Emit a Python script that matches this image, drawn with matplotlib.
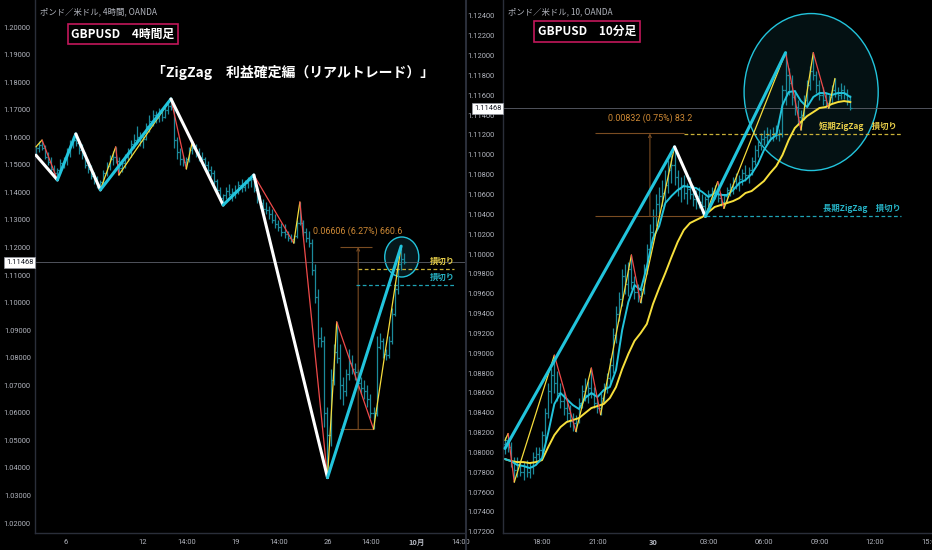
import numpy as np
import matplotlib
matplotlib.use("Agg")
import matplotlib.pyplot as plt
from matplotlib.patches import Ellipse
from matplotlib.lines import Line2D

JP = ['Noto Sans CJK JP', 'DejaVu Sans']
NUM = ['Roboto', 'DejaVu Sans']
plt.rcParams['font.family'] = JP

BG = '#000000'
GRID = '#2a2e39'
TXT = '#b2b5be'
CYAN = '#22c4dc'
YEL = '#f6dc3c'
RED = '#ef4a4a'
BAR = '#1b8a9b'
ORANGE = '#cf8a35'
BROWN = '#7a4c22'
PINK = '#c2185b'

# ---------------- 4 hour chart (prices in 1e-4) ----------------
h4_open0 = 11545
h4_high = [11568, 11585, 11590, 11572, 11545, 11530, 11500, 11490, 11520, 11530,
           11560, 11590, 11605, 11612, 11590, 11575, 11545, 11520, 11500, 11475,
           11460, 11445, 11480, 11510, 11535, 11550, 11565, 11530, 11520, 11540,
           11560, 11590, 11610, 11640, 11620, 11605, 11650, 11680, 11700, 11695,
           11705, 11700, 11715, 11725, 11739, 11715, 11600, 11560, 11535, 11530,
           11565, 11586, 11575, 11560, 11545, 11530, 11515, 11495, 11480, 11450,
           11420, 11395, 11420, 11430, 11415, 11425, 11440, 11450, 11445, 11455,
           11460, 11463, 11420, 11390, 11375, 11365, 11350, 11340, 11320, 11300,
           11290, 11285, 11260, 11250, 11245, 11300, 11365, 11300, 11270, 11260,
           11230, 11140, 11050, 10910, 10880, 10620, 10760, 10850, 10930, 10850,
           10730, 10760, 10830, 10810, 10780, 10760, 10730, 10720, 10700, 10670,
           10620, 10880, 10890, 10870, 10830, 10880, 10980, 11070, 11150, 11205,
           11180]
h4_low = [11532, 11548, 11555, 11520, 11498, 11470, 11455, 11445, 11470, 11490,
          11500, 11530, 11560, 11570, 11540, 11520, 11490, 11470, 11450, 11430,
          11415, 11409, 11425, 11460, 11480, 11500, 11505, 11463, 11475, 11490,
          11515, 11530, 11560, 11575, 11570, 11560, 11590, 11620, 11640, 11650,
          11655, 11660, 11670, 11685, 11700, 11560, 11520, 11500, 11495, 11485,
          11510, 11540, 11530, 11515, 11505, 11490, 11470, 11455, 11430, 11400,
          11370, 11354, 11375, 11385, 11370, 11380, 11395, 11400, 11405, 11415,
          11420, 11400, 11360, 11345, 11330, 11320, 11305, 11290, 11270, 11260,
          11240, 11235, 11225, 11220, 11216, 11235, 11280, 11240, 11220, 11200,
          11100, 11000, 10840, 10840, 10550, 10365, 10480, 10700, 10780, 10650,
          10630, 10660, 10720, 10740, 10720, 10690, 10670, 10650, 10620, 10580,
          10541, 10590, 10830, 10800, 10790, 10800, 10850, 10950, 11030, 11120,
          11140]
h4_close = [11560, 11572, 11560, 11530, 11510, 11485, 11470, 11482, 11505, 11522,
            11545, 11575, 11590, 11580, 11555, 11535, 11500, 11485, 11460, 11445,
            11430, 11438, 11470, 11495, 11520, 11530, 11515, 11490, 11505, 11530,
            11545, 11575, 11590, 11600, 11585, 11595, 11640, 11660, 11680, 11670,
            11690, 11675, 11700, 11715, 11710, 11590, 11545, 11520, 11510, 11520,
            11555, 11560, 11545, 11530, 11520, 11500, 11480, 11470, 11440, 11410,
            11380, 11390, 11405, 11395, 11400, 11410, 11425, 11420, 11435, 11445,
            11450, 11410, 11375, 11360, 11340, 11335, 11320, 11300, 11285, 11275,
            11255, 11250, 11235, 11230, 11240, 11290, 11290, 11255, 11235, 11215,
            11120, 11020, 10870, 10860, 10600, 10520, 10720, 10820, 10800, 10700,
            10680, 10740, 10780, 10760, 10750, 10710, 10690, 10680, 10650, 10600,
            10600, 10840, 10860, 10815, 10810, 10860, 10960, 11050, 11140, 11160,
            11147]
# ZigZag pivots (bar index, price 1e-4)
h4_zz_short_bar = [0, 2, 7, 13, 21, 26, 27, 44, 49, 51, 61, 71, 84, 86, 95, 98, 110, 119]
h4_zz_short_px = [11565, 11590, 11445, 11612, 11409, 11565, 11463, 11739, 11485, 11586,
                  11354, 11463, 11216, 11365, 10365, 10930, 10541, 11205]
h4_zz_long_bar = [0, 7, 13, 21, 44, 61, 71, 95, 119]
h4_zz_long_px = [11535, 11445, 11612, 11409, 11739, 11354, 11463, 10365, 11205]
h4_meas_low, h4_meas_high = 1.05410, 1.12016
h4_meas_text = '0.06606 (6.27%) 660.6'
h4_stop_short, h4_stop_long = 1.1122, 1.1064
h4_xtick_bar = [9.8, 34.9, 49.2, 65.1, 79.2, 95.1, 109.1, 124.1, 138.4]
h4_xtick_lab = ['6', '12', '14:00', '19', '14:00', '26', '14:00', '10月', '14:00']
h4_yticks = [1.02, 1.03, 1.04, 1.05, 1.06, 1.07, 1.08, 1.09, 1.10,
             1.11, 1.12, 1.13, 1.14, 1.15, 1.16, 1.17, 1.18, 1.19, 1.20]

# ---------------- 10 minute chart (prices in 1e-4, bar 0 = 18:00) ----------------
m10_first_bar = -12
m10_open0 = 10808
m10_high = [10815, 10819, 10810, 10795, 10795, 10792, 10790, 10792, 10790, 10800,
            10805, 10805, 10822, 10845, 10870, 10885, 10898, 10882, 10870, 10862,
            10855, 10848, 10840, 10838, 10855, 10868, 10875, 10872, 10885, 10866,
            10855, 10860, 10870, 10880, 10895, 10925, 10948, 10962, 10985, 10990,
            10992, 10999, 10978, 10970, 10968, 10990, 11010, 11030, 11045, 11060,
            11068, 11075, 11085, 11095, 11100, 11108, 11085, 11078, 11080, 11072,
            11078, 11070, 11065, 11068, 11060, 11058, 11065, 11068, 11070, 11073,
            11062, 11060, 11068, 11072, 11078, 11082, 11080, 11086, 11090, 11088,
            11098, 11110, 11115, 11122, 11125, 11128, 11126, 11128, 11130, 11126,
            11170, 11203, 11188, 11180, 11165, 11155, 11145, 11160, 11175, 11190,
            11203, 11185, 11175, 11168, 11162, 11160, 11170, 11177, 11168, 11172,
            11170, 11166, 11160]
m10_low = [10798, 10800, 10785, 10770, 10775, 10776, 10772, 10775, 10774, 10778,
           10788, 10790, 10798, 10810, 10835, 10850, 10860, 10852, 10845, 10838,
           10832, 10826, 10822, 10821, 10830, 10845, 10852, 10850, 10855, 10845,
           10840, 10838, 10850, 10860, 10868, 10880, 10910, 10932, 10948, 10960,
           10958, 10965, 10955, 10952, 10951, 10960, 10980, 10998, 11015, 11028,
           11040, 11048, 11052, 11062, 11072, 11070, 11058, 11052, 11055, 11050,
           11055, 11048, 11045, 11046, 11040, 11038, 11048, 11052, 11055, 11052,
           11048, 11046, 11052, 11058, 11060, 11066, 11064, 11070, 11074, 11072,
           11080, 11090, 11098, 11105, 11110, 11112, 11114, 11114, 11116, 11114,
           11118, 11150, 11160, 11150, 11140, 11130, 11125, 11135, 11148, 11165,
           11175, 11162, 11155, 11150, 11148, 11147, 11152, 11158, 11155, 11156,
           11156, 11150, 11145]
m10_close = [10812, 10805, 10790, 10782, 10788, 10780, 10786, 10780, 10785, 10795,
             10798, 10802, 10818, 10840, 10862, 10878, 10870, 10860, 10852, 10845,
             10840, 10832, 10830, 10835, 10850, 10862, 10858, 10865, 10860, 10850,
             10845, 10855, 10866, 10875, 10888, 10918, 10940, 10955, 10978, 10970,
             10985, 10972, 10962, 10958, 10965, 10985, 11005, 11022, 11038, 11050,
             11058, 11062, 11070, 11085, 11090, 11078, 11066, 11070, 11062, 11066,
             11060, 11055, 11058, 11052, 11048, 11055, 11060, 11064, 11062, 11056,
             11052, 11058, 11065, 11068, 11074, 11070, 11076, 11082, 11080, 11085,
             11094, 11105, 11110, 11116, 11118, 11120, 11118, 11122, 11120, 11122,
             11165, 11180, 11172, 11158, 11148, 11138, 11140, 11155, 11170, 11185,
             11180, 11170, 11160, 11155, 11152, 11158, 11165, 11162, 11160, 11165,
             11162, 11155, 11147]
m10_ma_bar = list(range(-12, 101, 2))
m10_ma_fast = [1.07932, 1.07912, 1.07872, 1.07862, 1.07842, 1.07872, 1.07942, 1.08195,
               1.08487, 1.08598, 1.08537, 1.08477, 1.08437, 1.08548, 1.08598, 1.08558,
               1.08628, 1.08659, 1.08830, 1.09233, 1.09516, 1.09687, 1.09637, 1.09869,
               1.10161, 1.10282, 1.10514, 1.10585, 1.10645, 1.10685, 1.10675, 1.10665,
               1.10625, 1.10575, 1.10615, 1.10595, 1.10595, 1.10645, 1.10716, 1.10746,
               1.10807, 1.10907, 1.11048, 1.11149, 1.11200, 1.11502, 1.11633, 1.11643,
               1.11542, 1.11482, 1.11583, 1.11623, 1.11623, 1.11603, 1.11623, 1.11623,
               1.11583]
m10_ma_slow = [1.07932, 1.07912, 1.07902, 1.07902, 1.07892, 1.07902, 1.07922, 1.08053,
               1.08174, 1.08255, 1.08306, 1.08326, 1.08346, 1.08397, 1.08447, 1.08467,
               1.08487, 1.08548, 1.08659, 1.08840, 1.08992, 1.09124, 1.09203, 1.09294,
               1.09496, 1.09657, 1.09808, 1.09969, 1.10121, 1.10242, 1.10312, 1.10343,
               1.10373, 1.10423, 1.10474, 1.10494, 1.10514, 1.10534, 1.10564, 1.10615,
               1.10635, 1.10685, 1.10736, 1.10816, 1.10887, 1.10998, 1.11149, 1.11270,
               1.11331, 1.11391, 1.11431, 1.11472, 1.11482, 1.11512, 1.11532, 1.11542,
               1.11532]
m10_zz_short_bar = [-12, -11, -9, 4, 11, 16, 19, 29, 32, 43, 53, 57, 59, 79, 84, 88, 93, 95]
m10_zz_short_px = [10812, 10819, 10770, 10898, 10821, 10885, 10838, 10999, 10951, 11108,
                   11038, 11073, 11046, 11203, 11125, 11203, 11147, 11177]
m10_zz_long_bar = [-12, 43, 53, 79]
m10_zz_long_px = [10804, 11108, 11038, 11203]
m10_meas_low, m10_meas_high = 1.10383, 1.11215
m10_meas_text = '0.00832 (0.75%) 83.2'
m10_stop_short, m10_stop_long = 1.1121, 1.1038
m10_xtick_bar = [0, 18, 36, 54, 72, 90, 108, 126]
m10_xtick_lab = ['18:00', '21:00', '30', '03:00', '06:00', '09:00', '12:00', '15:00']
m10_yticks = [1.072, 1.074, 1.076, 1.078, 1.080, 1.082, 1.084, 1.086, 1.088, 1.090,
              1.092, 1.094, 1.096, 1.098, 1.100, 1.102, 1.104, 1.106, 1.108, 1.110,
              1.112, 1.114, 1.116, 1.118, 1.120, 1.122, 1.124]

last_price = 1.11468

W, H = 932, 550
fig = plt.figure(figsize=(W / 100, H / 100), dpi=100, facecolor=BG)


def px_axes(x0, x1, ytop, ybot):
    return fig.add_axes([x0 / W, 1 - ybot / H, (x1 - x0) / W, (ybot - ytop) / H])


def style(ax, yt, xt, xl, bold, ypad):
    ax.set_facecolor(BG)
    for k, s in ax.spines.items():
        s.set_visible(k in ('left', 'bottom'))
        s.set_color(GRID)
        s.set_linewidth(1.0)
    ax.set_yticks(yt)
    ax.set_yticklabels(['%.5f' % v for v in yt])
    ax.set_xticks(xt)
    ax.set_xticklabels(xl)
    ax.tick_params(length=0, labelsize=5.4, colors=TXT)
    ax.tick_params(axis='y', pad=ypad)
    ax.tick_params(axis='x', pad=4)
    for t in ax.get_xticklabels() + ax.get_yticklabels():
        t.set_family(NUM)
    for t in ax.get_xticklabels():
        if t.get_text() in bold:
            t.set_fontweight('bold')
            t.set_family(JP)


def draw_ohlc(ax, x, o, h, l, c):
    ax.vlines(x, l, h, color=BAR, lw=0.9, zorder=1)
    ax.hlines(o, x - 0.5, x, color=BAR, lw=0.9, zorder=1)
    ax.hlines(c, x, x + 0.5, color=BAR, lw=0.9, zorder=1)


def draw_zigzag(ax, xs, ys, up, down, lw, z):
    for i in range(len(xs) - 1):
        col = up if ys[i + 1] > ys[i] else down
        ax.plot(xs[i:i + 2], ys[i:i + 2], color=col, lw=lw, zorder=z,
                solid_capstyle='round')


def price_box(ax, y):
    ax.axhline(y, color='#5d606b', lw=0.6, zorder=0.8)
    ax.text(-0.004, y, '%.5f' % y, transform=ax.get_yaxis_transform(),
            ha='right', va='center', fontsize=5.4, color='#131722', family=NUM,
            bbox=dict(boxstyle='square,pad=0.25', fc='white', ec='#9598a1', lw=0.5),
            zorder=5, clip_on=False)


def ohlc_arrays(open0, high, low, close):
    h = np.array(high) / 1e4
    l = np.array(low) / 1e4
    c = np.array(close) / 1e4
    o = np.concatenate([[open0 / 1e4], c[:-1]])
    return o, h, l, c


# ---------------- left: 4h ----------------
axL = px_axes(35, 465, 0, 533)
axL.set_xlim(-0.3, 139.8)
axL.set_ylim(1.0164, 1.2098)
style(axL, h4_yticks, h4_xtick_bar, h4_xtick_lab, ['10月'], 3)
o, h, l, c = ohlc_arrays(h4_open0, h4_high, h4_low, h4_close)
draw_ohlc(axL, np.arange(len(c)), o, h, l, c)
draw_zigzag(axL, h4_zz_short_bar, np.array(h4_zz_short_px) / 1e4, YEL, RED, 0.9, 3)
draw_zigzag(axL, h4_zz_long_bar, np.array(h4_zz_long_px) / 1e4, CYAN, 'white', 2.2, 4)
axL.add_patch(Ellipse((119.2, 1.11655), 11.1, 0.01451, fc='#06171b', ec=CYAN,
                      lw=1.0, zorder=0.5))
axL.hlines([h4_meas_low, h4_meas_high], 99, [110, 109.6], color=BROWN, lw=0.8, zorder=2)
axL.annotate('', xy=(105, h4_meas_high), xytext=(105, h4_meas_low),
             arrowprops=dict(arrowstyle='->', color=BROWN, lw=0.8,
                             shrinkA=0, shrinkB=0, mutation_scale=5), zorder=2)
axL.text(90.2, 1.12598, h4_meas_text, color=ORANGE, fontsize=6.4, family=NUM,
         va='center', ha='left', zorder=6)
axL.hlines(h4_stop_short, 104.9, 136.2, color='#c9b037', lw=0.9, ls=(0, (3, 2)), zorder=2)
axL.hlines(h4_stop_long, 104.2, 136.2, color='#1fa3b5', lw=0.9, ls=(0, (3, 2)), zorder=2)
axL.text(128.3, 1.11509, '損切り', color='#e8cf4a', fontsize=6.0, fontweight='bold',
         va='center', zorder=6)
axL.text(128.3, 1.10929, '損切り', color='#26b3c6', fontsize=6.0, fontweight='bold',
         va='center', zorder=6)
price_box(axL, last_price)

# ---------------- right: 10 min ----------------
axR = px_axes(503, 932, 0, 533)
axR.set_xlim(-12.65, 126.5)
axR.set_ylim(1.07187, 1.12561)
style(axR, m10_yticks, m10_xtick_bar, m10_xtick_lab, ['30'], 6)
o, h, l, c = ohlc_arrays(m10_open0, m10_high, m10_low, m10_close)
draw_ohlc(axR, np.arange(len(c)) + m10_first_bar, o, h, l, c)
axR.plot(m10_ma_bar, m10_ma_slow, color='#f7e03c', lw=1.4, zorder=2.2)
axR.plot(m10_ma_bar, m10_ma_fast, color=CYAN, lw=1.4, zorder=2.3)
draw_zigzag(axR, m10_zz_short_bar, np.array(m10_zz_short_px) / 1e4, YEL, RED, 0.9, 3)
draw_zigzag(axR, m10_zz_long_bar, np.array(m10_zz_long_px) / 1e4, CYAN, 'white', 2.2, 4)
axR.add_patch(Ellipse((87.3, 1.11633), 43.5, 0.01583, fc='#041113', ec=CYAN,
                      lw=1.0, zorder=0.5))
axR.hlines([m10_meas_low, m10_meas_high], 17.2, [53.2, 46], color=BROWN, lw=0.8, zorder=2)
axR.annotate('', xy=(35, m10_meas_high), xytext=(35, m10_meas_low),
             arrowprops=dict(arrowstyle='->', color=BROWN, lw=0.8,
                             shrinkA=0, shrinkB=0, mutation_scale=5), zorder=2)
axR.text(21.4, 1.11371, m10_meas_text, color=ORANGE, fontsize=6.4, family=NUM,
         va='center', ha='left', zorder=6)
axR.hlines(m10_stop_short, 46, 116.4, color='#c9b037', lw=0.9, ls=(0, (3, 2)), zorder=2)
axR.hlines(m10_stop_long, 53.2, 116.4, color='#1fa3b5', lw=0.9, ls=(0, (3, 2)), zorder=2)
axR.text(89.8, 1.11290, '短期ZigZag　損切り', color='#e8cf4a', fontsize=6.0,
         fontweight='bold', va='center', zorder=6)
axR.text(91.1, 1.10454, '長期ZigZag　損切り', color='#26b3c6', fontsize=6.0,
         fontweight='bold', va='center', zorder=6)
price_box(axR, last_price)

# ---------------- figure texts ----------------
fig.add_artist(Line2D([466 / W, 466 / W], [0, 1], color=GRID, lw=1.5))


def ftext(x, y, s, **kw):
    fig.text(x / W, 1 - y / H, s, **kw)


ftext(40, 12, 'ポンド／米ドル, 4時間, OANDA', color=TXT, fontsize=6, va='center')
ftext(508, 12, 'ポンド／米ドル, 10, OANDA', color=TXT, fontsize=6, va='center')
box = dict(boxstyle='square,pad=0.3', fc=BG, ec=PINK, lw=1.2)
ftext(123, 34, 'GBPUSD　4時間足', color='white', fontsize=8.5, fontweight='bold',
      ha='center', va='center', bbox=box)
ftext(587, 31.5, 'GBPUSD　10分足', color='white', fontsize=8.5, fontweight='bold',
      ha='center', va='center', bbox=box)
ftext(293, 73, '「ZigZag　利益確定編（リアルトレード）」', color='white', fontsize=10,
      fontweight='bold', ha='center', va='center')

fig.savefig('out.png', dpi=100, facecolor=BG)
